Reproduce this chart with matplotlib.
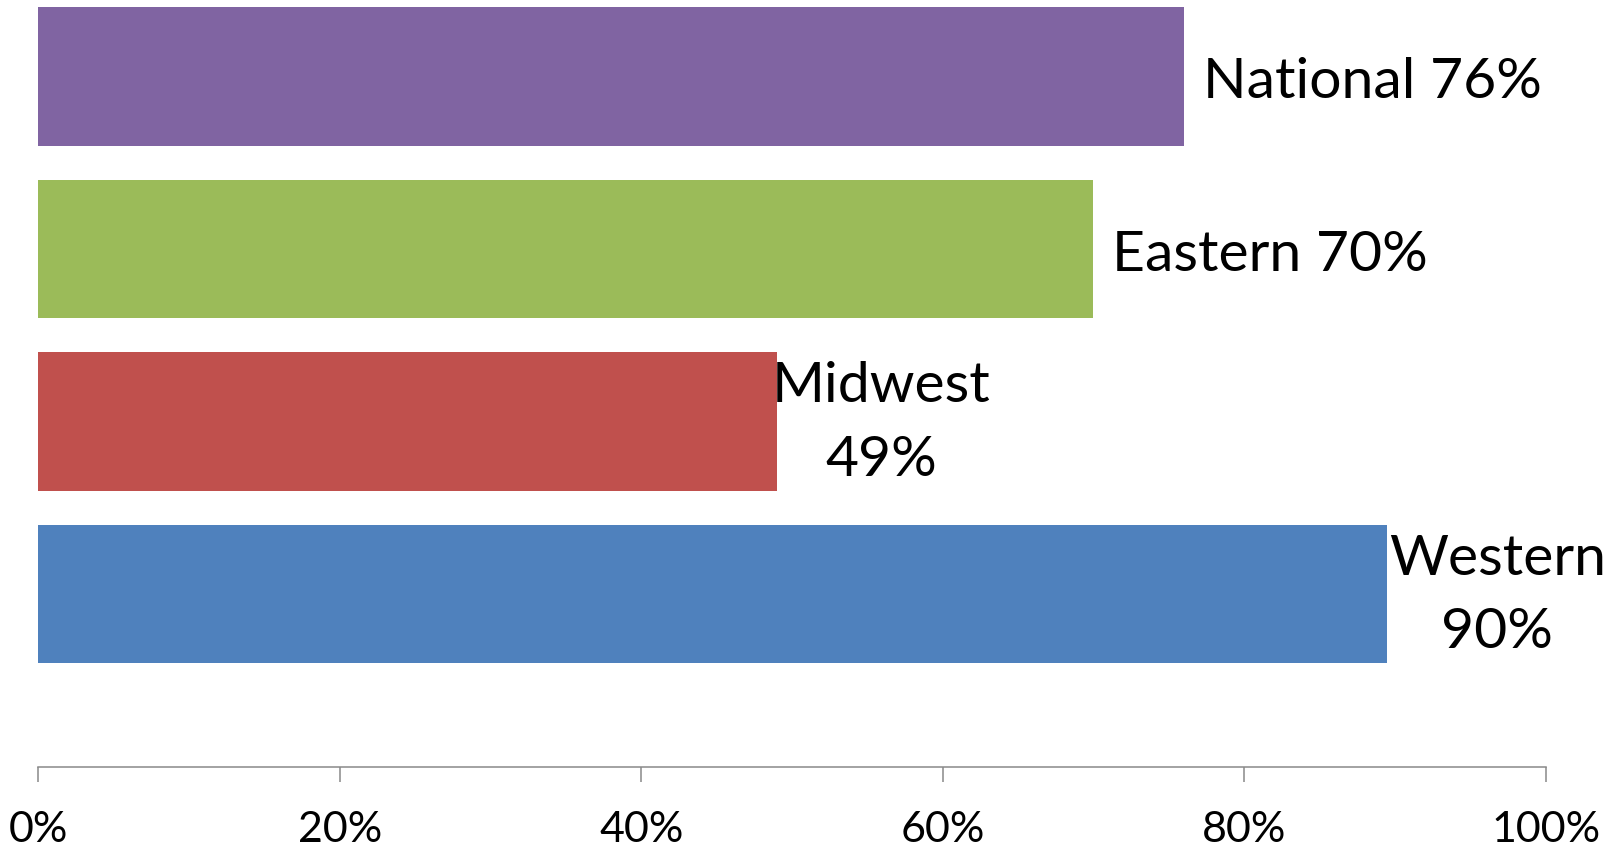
import numpy as np
import matplotlib.pyplot as plt
from matplotlib.ticker import PercentFormatter

# data (bottom to top)
regions = ['Western', 'Midwest', 'Eastern', 'National']
values = [0.895, 0.49, 0.70, 0.76]
labels = ['Western\n90%', 'Midwest\n49%', 'Eastern 70%', 'National 76%']
colors = ['#4F81BD', '#C0504D', '#9BBB59', '#8064A2']
xticks = [0, 0.2, 0.4, 0.6, 0.8, 1.0]

plt.rcParams['font.family'] = ['Lato', 'DejaVu Sans']

fig = plt.figure(figsize=(16.19, 8.48), dpi=100)
ax = fig.add_axes([0.02366, 0.0959, 0.93106, 0.9041])

y = np.arange(len(regions))
ax.barh(y, values, height=0.804, color=colors)

# data labels: short ones to the right, wrapped ones centred
for yi, v, lab in zip(y, values, labels):
    if '\n' in lab:
        dx = 104 if v < 0.6 else 110
        ax.annotate(lab, (v, yi), xytext=(dx, -2), textcoords='offset pixels',
                    ha='center', va='center', fontsize=41, linespacing=1.55,
                    annotation_clip=False)
    else:
        ax.annotate(lab, (v, yi), xytext=(19, -6), textcoords='offset pixels',
                    ha='left', va='center', fontsize=41, annotation_clip=False)

ax.set_xlim(0, 1)
ax.set_ylim(-1.0, 3.443)
ax.set_xticks(xticks)
ax.xaxis.set_major_formatter(PercentFormatter(1.0, decimals=0))
ax.set_yticks([])

for s in ['top', 'right', 'left']:
    ax.spines[s].set_visible(False)
ax.spines['bottom'].set_color('#898989')
ax.spines['bottom'].set_linewidth(1.1)
ax.tick_params(axis='x', direction='out', length=10.8, width=1.1,
               color='#898989', labelsize=31, pad=21)

fig.savefig('out.png', dpi=100)
